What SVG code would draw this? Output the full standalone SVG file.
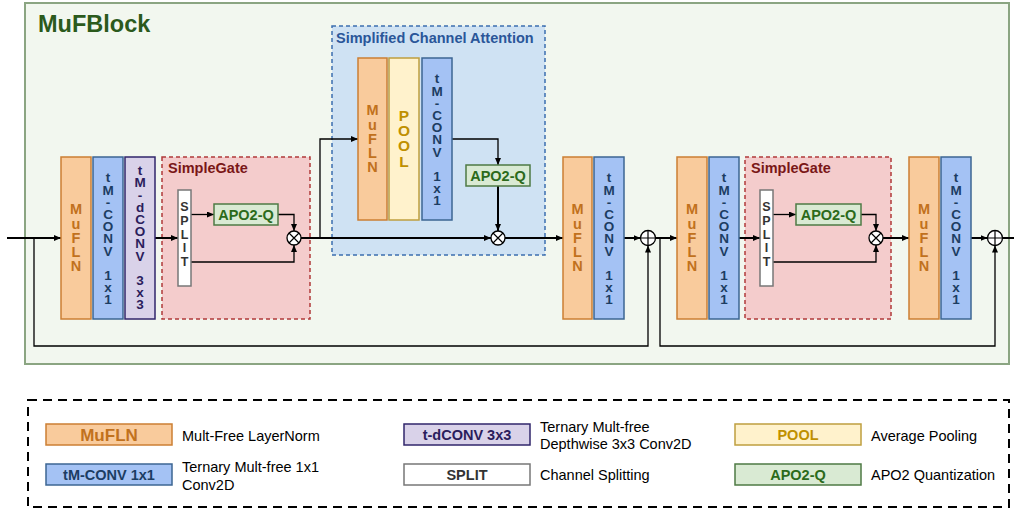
<svg xmlns="http://www.w3.org/2000/svg" width="1014" height="509" viewBox="0 0 1014 509">
<style>
text{font-family:"Liberation Sans",Arial,sans-serif;}
.b{font-weight:bold;}
.v{writing-mode:vertical-rl;text-orientation:upright;text-anchor:middle;}
.mufln{fill:#f9cb9c;stroke:#cc7f33;stroke-width:1.5;}
.mufln-t{fill:#c1711d;font-weight:bold;font-size:14.5px;text-anchor:middle;}
.mv{letter-spacing:-1.7px;}
.tm{fill:#a4c2f4;stroke:#3c6693;stroke-width:1.5;}
.tm-t{fill:#1c3d63;font-weight:bold;font-size:13.5px;text-anchor:middle;}
.tv{letter-spacing:-2.8px;}
.td{fill:#d9d2e9;stroke:#30266b;stroke-width:1.5;}
.td-t{fill:#2b1d5c;font-weight:bold;font-size:13.5px;text-anchor:middle;}
.pool{fill:#fff2cc;stroke:#bf9f3f;stroke-width:1.5;}
.pool-t{fill:#bf9000;font-weight:bold;font-size:15.5px;text-anchor:middle;}
.pv{letter-spacing:-1.8px;}
.apo{fill:#d9ead3;stroke:#4e7a44;stroke-width:1.5;}
.apo-t{fill:#2c6a1b;font-weight:bold;font-size:14.5px;text-anchor:middle;}
.split{fill:#ffffff;stroke:#777;stroke-width:1.5;}
.split-t{fill:#333;font-weight:bold;font-size:12.5px;text-anchor:middle;}
.sv{letter-spacing:-0.2px;}
.sg{fill:#f4cccc;stroke:#b03a3a;stroke-width:1.5;stroke-dasharray:4,3;}
.sg-t{fill:#7a1717;font-weight:bold;font-size:14.5px;}
.sca{fill:#cfe2f3;stroke:#3d6fb0;stroke-width:1.5;stroke-dasharray:4,3;}
.sca-t{fill:#2a5699;font-weight:bold;font-size:14.5px;}
.op{fill:#fff;stroke:#000;stroke-width:1.3;}
.thick{fill:none;stroke:#000;stroke-width:2;}
.thin{fill:none;stroke:#000;stroke-width:1.3;}
.lg{fill:#000;font-size:14.5px;}
</style>
<defs>
<marker id="ah" markerUnits="userSpaceOnUse" markerWidth="8" markerHeight="7" refX="7" refY="3" orient="auto">
<path d="M0,0 L7,3 L0,6 z" fill="#000"/>
</marker>
</defs>

<g id="mufblock">
<rect x="25" y="3" width="984" height="361" fill="#f2f7ef" stroke="#8ba582" stroke-width="2"/>
<text x="38" y="32" class="b" font-size="23.5px" fill="#2b5a1c">MuFBlock</text>
</g>

<g id="sca">
<rect class="sca" x="332" y="26" width="213" height="229"/>
<text x="336" y="43" class="sca-t">Simplified Channel Attention</text>
</g>
<g id="simplegate1">
<rect class="sg" x="162" y="157" width="148" height="162"/>
<text x="168" y="173" class="sg-t">SimpleGate</text>
</g>
<g id="simplegate2">
<rect class="sg" x="745" y="157" width="146" height="162"/>
<text x="751" y="173" class="sg-t">SimpleGate</text>
</g>

<g id="connectors">
<path class="thick" d="M7,238 H61" marker-end="url(#ah)"/>
<path class="thin" d="M34,238 V346 H648 V245.5" marker-end="url(#ah)"/>
<path class="thick" d="M155,238 H178" marker-end="url(#ah)"/>
<path class="thin" d="M191,214.5 H214" marker-end="url(#ah)"/>
<path class="thin" d="M278,214.5 H294 V231" marker-end="url(#ah)"/>
<path class="thin" d="M191,262 H294 V245" marker-end="url(#ah)"/>
<path class="thick" d="M301,238 H491" marker-end="url(#ah)"/>
<path class="thin" d="M320,238 V139 H358" marker-end="url(#ah)"/>
<path class="thin" d="M452,139 H498 V165" marker-end="url(#ah)"/>
<path class="thick" d="M498,186 V231" marker-end="url(#ah)"/>
<path class="thick" d="M505,238 H563" marker-end="url(#ah)"/>
<path class="thick" d="M624,238 H640.5" marker-end="url(#ah)"/>
<path class="thick" d="M655.5,238 H677" marker-end="url(#ah)"/>
<path class="thin" d="M660,238 V346 H995 V245.5" marker-end="url(#ah)"/>
<path class="thick" d="M739,238 H760" marker-end="url(#ah)"/>
<path class="thin" d="M773,214.5 H796" marker-end="url(#ah)"/>
<path class="thin" d="M861,214.5 H876 V231" marker-end="url(#ah)"/>
<path class="thin" d="M773,262 H876 V245" marker-end="url(#ah)"/>
<path class="thick" d="M883,238 H909" marker-end="url(#ah)"/>
<path class="thick" d="M971,238 H987.5" marker-end="url(#ah)"/>
<path class="thick" d="M1002.5,238 H1014"/>
</g>

<g id="mufln1">
<rect class="mufln" x="61" y="157" width="30" height="162"/>
<text class="mufln-t v mv" x="76" y="237">MuFLN</text>
</g>
<g id="tmconv1">
<rect class="tm" x="93" y="157" width="30" height="162"/>
<text class="tm-t v tv" x="108" y="237.5">tM-CONV 1x1</text>
</g>
<g id="tdconv">
<rect class="td" x="125" y="157" width="30" height="162"/>
<text class="td-t v tv" x="140" y="236.5">tM-dCONV 3x3</text>
</g>
<g id="split1">
<rect class="split" x="178" y="190" width="13" height="96"/>
<text class="split-t v sv" x="184.5" y="234.5">SPLIT</text>
</g>
<g id="apo2q1">
<rect class="apo" x="214" y="204" width="64" height="21"/>
<text class="apo-t" x="246" y="219.5">APO2-Q</text>
</g>
<g id="mul1">
<circle class="op" cx="294" cy="238" r="7"/>
<path d="M289,233 L299,243 M299,233 L289,243" stroke="#000" stroke-width="1.2"/>
</g>

<g id="mufln-sca">
<rect class="mufln" x="358" y="58" width="29" height="162"/>
<text class="mufln-t v mv" x="372.5" y="138">MuFLN</text>
</g>
<g id="pool">
<rect class="pool" x="389" y="58" width="30" height="162"/>
<text class="pool-t v pv" x="404" y="137.5">POOL</text>
</g>
<g id="tmconv-sca">
<rect class="tm" x="422" y="58" width="30" height="162"/>
<text class="tm-t v tv" x="437" y="138.5">tM-CONV 1x1</text>
</g>
<g id="apo2q-sca">
<rect class="apo" x="466" y="165" width="64" height="21"/>
<text class="apo-t" x="498" y="180.5">APO2-Q</text>
</g>
<g id="mul-sca">
<circle class="op" cx="498" cy="238" r="7"/>
<path d="M493,233 L503,243 M503,233 L493,243" stroke="#000" stroke-width="1.2"/>
</g>

<g id="mufln2">
<rect class="mufln" x="563" y="157" width="29" height="162"/>
<text class="mufln-t v mv" x="577.5" y="237">MuFLN</text>
</g>
<g id="tmconv2">
<rect class="tm" x="594" y="157" width="30" height="162"/>
<text class="tm-t v tv" x="609" y="237.5">tM-CONV 1x1</text>
</g>
<g id="add1">
<circle class="op" cx="648" cy="238" r="7.5"/>
<path d="M640.5,238 H655.5 M648,230.5 V245.5" stroke="#000" stroke-width="1.2"/>
</g>

<g id="mufln3">
<rect class="mufln" x="677" y="157" width="30" height="162"/>
<text class="mufln-t v mv" x="692" y="237">MuFLN</text>
</g>
<g id="tmconv3">
<rect class="tm" x="709" y="157" width="30" height="162"/>
<text class="tm-t v tv" x="724" y="237.5">tM-CONV 1x1</text>
</g>
<g id="split2">
<rect class="split" x="760" y="190" width="13" height="96"/>
<text class="split-t v sv" x="766.5" y="234.5">SPLIT</text>
</g>
<g id="apo2q2">
<rect class="apo" x="796" y="204" width="65" height="21"/>
<text class="apo-t" x="828.5" y="219.5">APO2-Q</text>
</g>
<g id="mul2">
<circle class="op" cx="876" cy="238" r="7"/>
<path d="M871,233 L881,243 M881,233 L871,243" stroke="#000" stroke-width="1.2"/>
</g>
<g id="mufln4">
<rect class="mufln" x="909" y="157" width="30" height="162"/>
<text class="mufln-t v mv" x="924" y="237">MuFLN</text>
</g>
<g id="tmconv4">
<rect class="tm" x="941" y="157" width="30" height="162"/>
<text class="tm-t v tv" x="956" y="237.5">tM-CONV 1x1</text>
</g>
<g id="add2">
<circle class="op" cx="995" cy="238" r="7.5"/>
<path d="M987.5,238 H1002.5 M995,230.5 V245.5" stroke="#000" stroke-width="1.2"/>
</g>

<g id="legend">
<rect x="28" y="400" width="981" height="107" fill="none" stroke="#000" stroke-width="2" stroke-dasharray="9,6"/>
<rect class="mufln" x="46" y="424" width="126" height="21"/>
<text x="109" y="441" class="mufln-t" style="font-size:17px">MuFLN</text>
<text x="182" y="440.5" class="lg">Mult-Free LayerNorm</text>
<rect class="tm" x="46" y="464" width="126" height="21"/>
<text x="109" y="480" class="tm-t" style="font-size:14.5px">tM-CONV 1x1</text>
<text class="lg"><tspan x="182" y="471.5">Ternary Mult-free 1x1</tspan><tspan x="182" y="489.5">Conv2D</tspan></text>
<rect class="td" x="404" y="424" width="126" height="21"/>
<text x="467" y="440" class="td-t" style="font-size:14.5px">t-dCONV 3x3</text>
<text class="lg"><tspan x="540" y="432">Ternary Mult-free</tspan><tspan x="540" y="449">Depthwise 3x3 Conv2D</tspan></text>
<rect class="split" x="404" y="464" width="126" height="21"/>
<text x="467" y="480" class="split-t" style="font-size:14.5px">SPLIT</text>
<text x="540" y="480" class="lg">Channel Splitting</text>
<rect class="pool" x="735" y="424" width="126" height="21"/>
<text x="798" y="440" class="pool-t" style="font-size:14.5px">POOL</text>
<text x="871" y="440.5" class="lg">Average Pooling</text>
<rect class="apo" x="735" y="464" width="126" height="21"/>
<text x="798" y="480" class="apo-t">APO2-Q</text>
<text x="871" y="480" class="lg">APO2 Quantization</text>
</g>
</svg>
